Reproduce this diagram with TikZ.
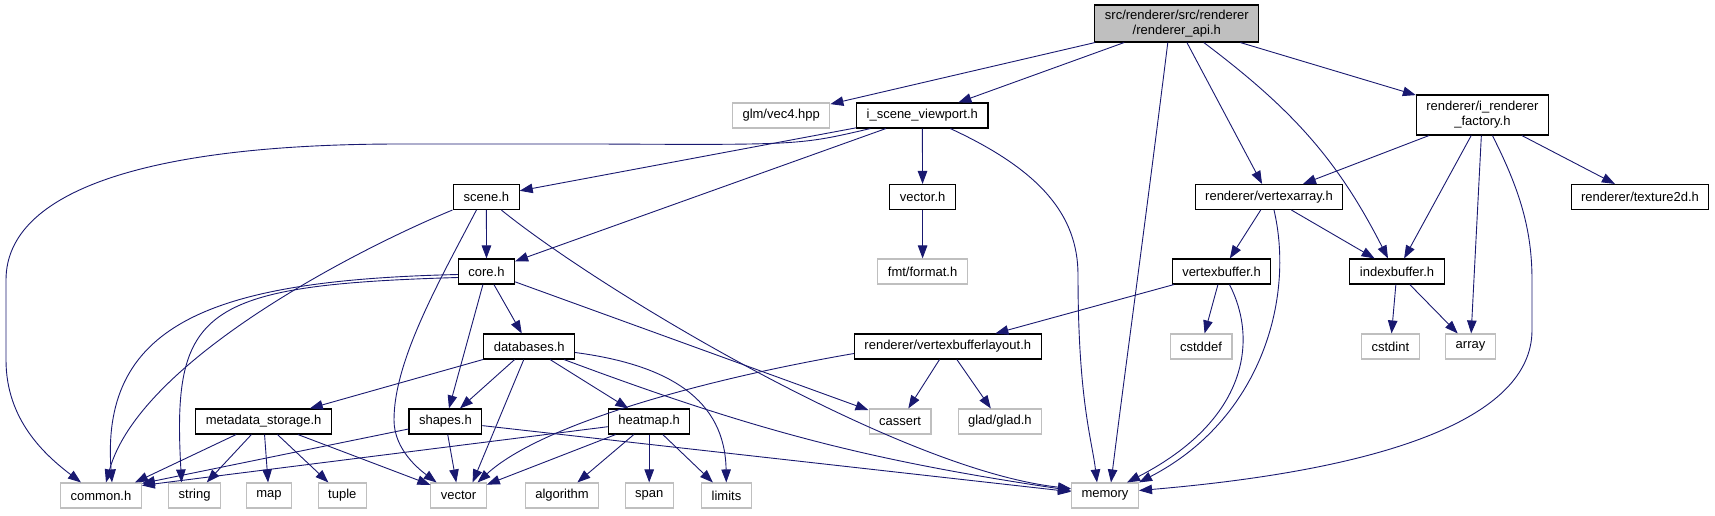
\documentclass[tikz,border=0pt]{standalone}
\usepackage{fontspec}
\setmainfont{Liberation Sans}
\usetikzlibrary{arrows.meta}
\definecolor{dox}{RGB}{25,25,112}
\definecolor{lgray}{RGB}{191,191,191}

\begin{document}
\begin{tikzpicture}[x=1pt,y=1pt,>={Triangle[length=13pt,width=9.5pt]},
  hd/.style={draw,line width=1.1pt,fill=white,inner xsep=10pt,inner ysep=0pt,minimum height=25pt,align=center,font=\fontsize{13}{15}\selectfont},
  sys/.style={hd,draw=lgray},
  dep/.style={->,draw=dox,line width=0.9pt}]
\useasboundingbox (0,0) rectangle (1715,-515);
% headers
\node[hd,fill=lgray,minimum height=37pt] (root) at (1176.8,-23.5) {src/renderer/src/renderer\\/renderer\_api.h};
\node[sys] (glm) at (781.2,-115.5) {glm/vec4.hpp};
\node[hd] (isv) at (922.3,-115.5) {i\_scene\_viewport.h};
\node[hd,minimum height=40pt] (fac) at (1482.4,-115) {renderer/i\_renderer\\\_factory.h};
\node[hd] (scn) at (486.4,-197) {scene.h};
\node[hd] (vech) at (922.6,-197) {vector.h};
\node[hd] (varr) at (1269,-197) {renderer/vertexarray.h};
\node[hd] (tex) at (1640,-197) {renderer/texture2d.h};
\node[hd] (core) at (486.5,-271.5) {core.h};
\node[sys] (fmt) at (922.6,-271.5) {fmt/format.h};
\node[hd] (vbuf) at (1221.5,-271.5) {vertexbuffer.h};
\node[hd] (ibuf) at (1397,-271.5) {indexbuffer.h};
\node[hd] (db) at (529.2,-346.5) {databases.h};
\node[hd] (vbl) at (947.8,-346.5) {renderer/vertexbufferlayout.h};
\node[sys] (cdef) at (1201,-346.5) {cstddef};
\node[sys] (cint) at (1390.4,-346.5) {cstdint};
\node[sys] (arr) at (1470.5,-346.5) {array};
\node[hd] (meta) at (263.6,-421.5) {metadata\_storage.h};
\node[hd] (shp) at (445.4,-421.5) {shapes.h};
\node[hd] (heat) at (649.2,-421.5) {heatmap.h};
\node[sys] (cas) at (900,-421.5) {cassert};
\node[sys] (glad) at (999.9,-421.5) {glad/glad.h};
% system headers
\node[sys] (com) at (101,-495.5) {common.h};
\node[sys] (str) at (194.6,-495.5) {string};
\node[sys] (map) at (269,-495.5) {map};
\node[sys] (tup) at (342.3,-495.5) {tuple};
\node[sys] (vec) at (458.6,-495.5) {vector};
\node[sys] (alg) at (562,-495.5) {algorithm};
\node[sys] (span) at (649.2,-495.5) {span};
\node[sys] (lim) at (726.5,-495.5) {limits};
\node[sys] (mem) at (1105,-495.5) {memory};
% root
\draw[dep] (root) -- (glm);
\draw[dep] (root) -- (isv);
\draw[dep] ([xshift=-9pt]root.south) .. controls +(-25,-200) and +(15,120) .. ([xshift=6pt]mem.north);
\draw[dep] (root) -- (varr);
\draw[dep] ([xshift=27pt]root.south) to[out=-37,in=117] ([xshift=-9pt]ibuf.north);
\draw[dep] (root) -- (fac);
% i_scene_viewport
\draw[dep] ([xshift=-52pt]isv.south) .. controls (800,-145) .. (600,-144) -- (400,-144) .. controls (150,-144) and (6,-190) .. (6,-280) -- (6,-360) .. controls (6,-420) and (45,-455) .. ([xshift=-20pt]com.north);
\draw[dep] (isv) -- (scn);
\draw[dep] (isv) -- (core);
\draw[dep] (isv) -- (vech);
\draw[dep] ([xshift=28pt]isv.south) .. controls (1040,-170) and (1078,-215) .. (1078,-275) .. controls (1078,-400) and (1092,-440) .. ([xshift=-8pt]mem.north);
% factory
\draw[dep] (fac) -- (varr);
\draw[dep] (fac) -- (ibuf);
\draw[dep] (fac) -- (arr);
\draw[dep] (fac) -- (tex);
\draw[dep] ([xshift=10pt]fac.south) .. controls (1520,-190) and (1532,-230) .. (1532,-280) -- (1532,-330) .. controls (1532,-420) and (1380,-470) .. ([yshift=5pt]mem.east);
\draw[dep] (vech) -- (fmt);
% vertex array / buffers
\draw[dep] (varr) -- (vbuf);
\draw[dep] (varr) -- (ibuf);
\draw[dep] ([xshift=5pt]varr.south) .. controls (1295,-300) and (1260,-420) .. (mem.north east);
\draw[dep] (ibuf) -- (cint);
\draw[dep] (ibuf) -- (arr);
\draw[dep] (vbuf) -- (vbl);
\draw[dep] (vbuf) -- (cdef);
\draw[dep] ([xshift=8pt]vbuf.south) .. controls (1258,-340) and (1248,-420) .. ([xshift=-12pt]mem.north east);
\draw[dep] (vbl) -- (cas);
\draw[dep] (vbl) -- (glad);
\draw[dep] ([yshift=-7pt]vbl.west) .. controls (700,-380) and (540,-425) .. ([xshift=19pt]vec.north);
% scene
\draw[dep] (scn) -- (core);
\draw[dep] ([xshift=-34pt]scn.south) .. controls (360,-248) and (140,-360) .. ([xshift=5pt]com.north);
\draw[dep] ([xshift=-10pt]scn.south) .. controls (440,-280) and (394,-360) .. (394,-420) .. controls (394,-450) and (420,-470) .. ([xshift=-22pt]vec.north);
\draw[dep] ([xshift=15pt]scn.south) .. controls (600,-290) and (900,-470) .. ([yshift=7pt]mem.west);
% core
\draw[dep] ([yshift=-3pt]core.west) .. controls (220,-280) and (100,-320) .. ([xshift=11pt]com.north);
\draw[dep] ([yshift=-6pt]core.west) .. controls (200,-285) and (172,-310) .. ([xshift=-13pt]str.north);
\draw[dep] (core) -- (db);
\draw[dep] (core) -- (shp);
\draw[dep] (core) -- (cas);
% databases
\draw[dep] (db) -- (meta);
\draw[dep] (db) -- (shp);
\draw[dep] (db) -- ([xshift=14pt]vec.north);
\draw[dep] (db) -- (heat);
\draw[dep] ([yshift=-6pt]db.east) .. controls (670,-365) and (725,-400) .. (lim);
\draw[dep] (db) to[bend right=6] (mem);
% metadata, shapes, heatmap
\draw[dep] (meta) -- ([xshift=34pt]com.north);
\draw[dep] (meta) -- (str);
\draw[dep] (meta) -- (map);
\draw[dep] (meta) -- (tup);
\draw[dep] (meta) -- (vec);
\draw[dep] (shp) -- ([yshift=-1pt]com.north east);
\draw[dep] (shp) -- (vec);
\draw[dep] (shp) -- (mem);
\draw[dep] (heat) -- ([yshift=-3pt]com.north east);
\draw[dep] (heat) -- (vec);
\draw[dep] (heat) -- (alg);
\draw[dep] (heat) -- (span);
\draw[dep] (heat) -- (lim);
\end{tikzpicture}
\end{document}
